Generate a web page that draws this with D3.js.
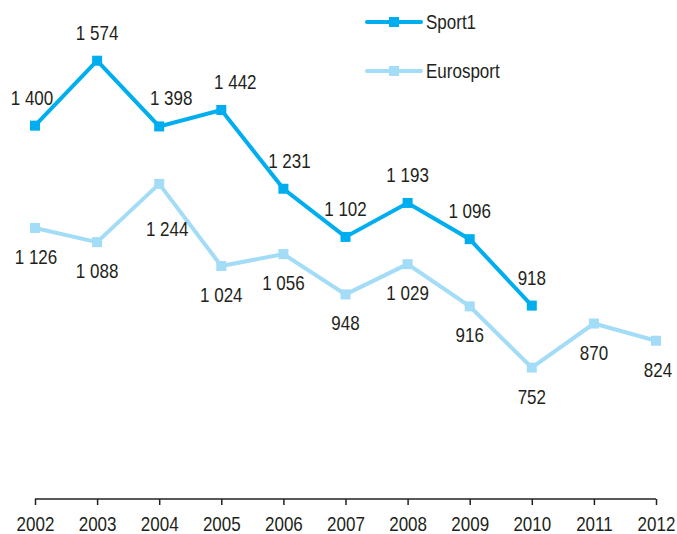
<!DOCTYPE html>
<html>
<head>
<meta charset="utf-8">
<script src="https://cdn.jsdelivr.net/npm/d3@7"></script>
<style>
  body { margin: 0; background: #fff; }
  text { font-family: "Liberation Sans", Arial, sans-serif; fill: #231f20; }
</style>
</head>
<body>
<div id="chart"></div>
<script>
var years = [2002, 2003, 2004, 2005, 2006, 2007, 2008, 2009, 2010, 2011, 2012];
var sport1 = [1400, 1574, 1398, 1442, 1231, 1102, 1193, 1096, 918, null, null];
var eurosport = [1126, 1088, 1244, 1024, 1056, 948, 1029, 916, 752, 870, 824];

var width = 677, height = 534;
var squeeze = 0.85; // fake the condensed face of the source

var svg = d3.select("#chart").append("svg")
    .attr("width", width)
    .attr("height", height);

var x = d3.scalePoint().domain(years).range([35, 656]);
var y = d3.scaleLinear().domain([400, 1600]).range([499, 51]);

var xAxis = svg.append("g")
    .attr("transform", "translate(0,499)")
    .call(d3.axisBottom(x).tickSize(6).tickSizeOuter(0).tickPadding(12));
xAxis.select(".domain").attr("stroke", "#231f20").attr("stroke-width", 1.5)
    .attr("d", "M" + x(2002) + ",0H" + x(2012));
xAxis.selectAll(".tick line").attr("stroke", "#231f20").attr("stroke-width", 1.5);
xAxis.selectAll(".tick text")
    .style("font-size", "20px")
    .attr("fill", "#231f20")
    .attr("transform", "scale(" + squeeze + ",1)");

function fmt(v) {
    return d3.format(",")(v).replace(/,/g, " ");
}

// small nudges where the source moved a label off the line
var nudgeAbove = { 2002: -3, 2004: 12, 2005: 14, 2006: 6 };
var nudgeBelow = { 2002: 1, 2004: 8, 2012: 2 };

function drawSeries(values, color, above) {
    var pts = years.map(function(yr, i) { return { yr: yr, v: values[i] }; })
        .filter(function(d) { return d.v != null; });
    var line = d3.line().x(function(d) { return x(d.yr); }).y(function(d) { return y(d.v); });
    svg.append("path").datum(pts)
        .attr("fill", "none").attr("stroke", color).attr("stroke-width", 4)
        .attr("d", line);
    svg.selectAll(null).data(pts).enter().append("rect")
        .attr("x", function(d) { return x(d.yr) - 5; })
        .attr("y", function(d) { return y(d.v) - 5; })
        .attr("width", 10).attr("height", 10)
        .attr("fill", color);
    var nudge = above ? nudgeAbove : nudgeBelow;
    svg.selectAll(null).data(pts).enter().append("text")
        .attr("transform", function(d) {
            var tx = x(d.yr) + (nudge[d.yr] || 0);
            var ty;
            if (above) ty = y(d.v) - 21;
            else if (d.yr === 2004) ty = y(d.v) + 52;
            else ty = y(d.v) + 36;
            return "translate(" + tx + "," + ty + ") scale(" + squeeze + ",1)";
        })
        .attr("text-anchor", "middle")
        .style("font-size", "20px")
        .text(function(d) { return fmt(d.v); });
}

drawSeries(eurosport, "#a3dcf6", false);
drawSeries(sport1, "#00aeef", true);

var legend = [["Sport1", "#00aeef", 22], ["Eurosport", "#a3dcf6", 71]];
legend.forEach(function(l) {
    var g = svg.append("g").attr("transform", "translate(0," + l[2] + ")");
    g.append("line").attr("x1", 367).attr("x2", 421).attr("y1", 0).attr("y2", 0)
        .attr("stroke", l[1]).attr("stroke-width", 4).attr("stroke-linecap", "round");
    g.append("rect").attr("x", 389).attr("y", -5).attr("width", 10).attr("height", 10).attr("fill", l[1]);
    g.append("text").attr("transform", "translate(426,7) scale(" + squeeze + ",1)")
        .style("font-size", "20px").text(l[0]);
});
</script>
</body>
</html>
